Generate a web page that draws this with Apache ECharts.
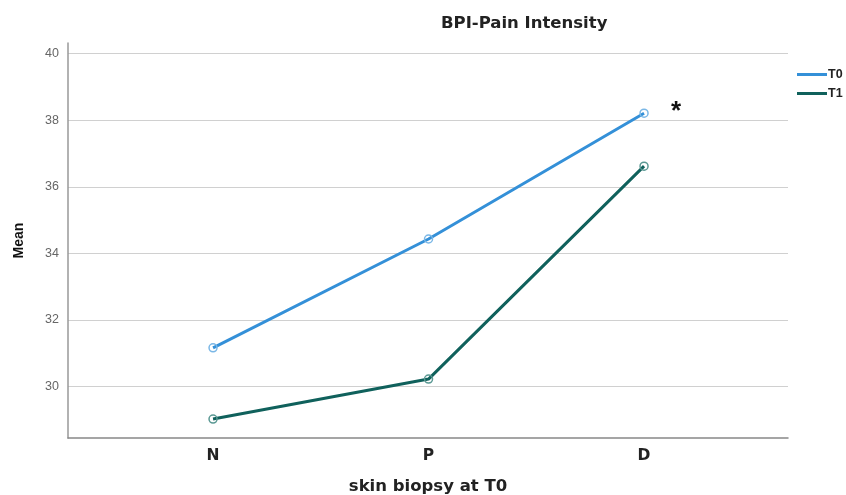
<!DOCTYPE html>
<html><head><meta charset="utf-8">
<script src="https://cdn.jsdelivr.net/npm/echarts@6/dist/echarts.min.js"></script>
<style>html,body{margin:0;padding:0;background:#fff}#c{width:846px;height:495px}</style>
</head><body><div id="c"></div>
<script>
var categories = ['N', 'P', 'D'];
var t0Values = [31.16, 34.43, 38.21];
var t1Values = [29.02, 30.22, 36.62];
var yTicks = [30, 32, 34, 36, 38, 40];

var chart = echarts.init(document.getElementById('c'));
function pts(vals){ return vals.map(function(v,i){ return [i, v]; }); }
var F = 'Liberation Sans, Arial, sans-serif';
var W = 'DejaVu Sans, Verdana, sans-serif';
chart.setOption({
  animation: false,
  backgroundColor: '#fff',
  title: {
    text: 'BPI-Pain Intensity', left: 436, top: 10,
    textStyle: {fontFamily: W, fontWeight: 'bold', fontSize: 16.5, color: '#222'}
  },
  legend: {
    orient: 'vertical', left: 792, top: 63, itemWidth: 30, itemHeight: 3, itemGap: 6,
    icon: 'rect',
    textStyle: {fontFamily: F, fontWeight: 'bold', fontSize: 12.5, color: '#222', padding: [0,0,0,-4]},
    data: [
      {name: 'T0', itemStyle: {color: '#3490d8', borderWidth: 0}},
      {name: 'T1', itemStyle: {color: '#10615c', borderWidth: 0}}
    ]
  },
  grid: {left: 68, right: 58, top: 43, bottom: 57, outerBoundsMode: 'none', containLabel: false},
  xAxis: {
    type: 'value', min: -0.673, max: 2.668,
    name: 'skin biopsy at T0', nameLocation: 'middle', nameGap: 40,
    nameTextStyle: {fontFamily: W, fontWeight: 'bold', fontSize: 16.5, color: '#222'},
    axisLine: {show: true, onZero: false, lineStyle: {color: '#888', width: 1.5}},
    axisTick: {show: false, customValues: [0,1,2]},
    splitLine: {show: false},
    axisLabel: {customValues: [0,1,2], margin: 10,
      formatter: function(v){ return categories[Math.round(v)]; },
      fontFamily: W, fontWeight: 'bold', fontSize: 15.5, color: '#222'}
  },
  yAxis: {
    type: 'value', min: 28.45, max: 40.32,
    name: 'Mean', nameLocation: 'middle', nameGap: 42,
    nameTextStyle: {fontFamily: F, fontWeight: 'bold', fontSize: 14, color: '#111'},
    axisLine: {show: true, onZero: false, lineStyle: {color: '#999', width: 1.5}},
    axisTick: {show: false, customValues: yTicks},
    axisLabel: {customValues: yTicks, margin: 9, fontFamily: F, fontSize: 12.5, color: '#666'},
    splitLine: {show: true, lineStyle: {color: '#d0d0d0', width: 1.2}}
  },
  series: [
    {name: 'T0', type: 'line', data: pts(t0Values), color: '#3490d8',
     lineStyle: {width: 3, color: '#3490d8'}, symbol: 'circle', symbolSize: 8,
     itemStyle: {color: 'rgba(255,255,255,0)', borderColor: '#7ab7e6', borderWidth: 1.5},
     markPoint: {symbol: 'circle', symbolSize: 0,
       data: [{coord: [2, t0Values[2]], value: '*'}],
       label: {show: true, formatter: '*', offset: [32, -1], fontFamily: F, fontWeight: 'bold', fontSize: 26, color: '#111'}}
    },
    {name: 'T1', type: 'line', data: pts(t1Values), color: '#10615c',
     lineStyle: {width: 3, color: '#10615c'}, symbol: 'circle', symbolSize: 8,
     itemStyle: {color: 'rgba(255,255,255,0)', borderColor: '#5a9893', borderWidth: 1.5}}
  ]
});
</script></body></html>
